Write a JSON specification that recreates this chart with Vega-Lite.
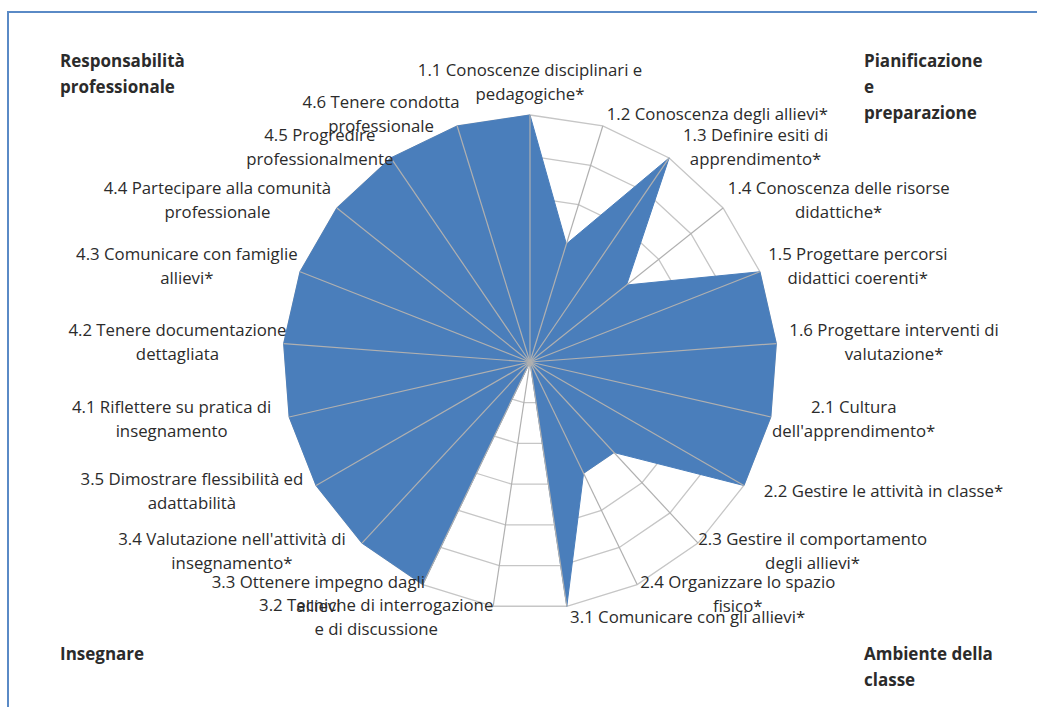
{
  "$schema": "https://vega.github.io/schema/vega-lite/v6.json",
  "width": 1035,
  "height": 701,
  "autosize": {"type": "none"},
  "padding": {"left": 8, "top": 12, "right": -6, "bottom": -6},
  "background": "white",
  "config": {"view": {"stroke": "#5a8ac6", "strokeWidth": 2}},
  "datasets": {
    "cats": [
      {"idx": 0, "cat": "1.1 Conoscenze disciplinari e\npedagogiche*", "value": 6},
      {"idx": 1, "cat": "1.2 Conoscenza degli allievi*", "value": 3},
      {"idx": 2, "cat": "1.3 Definire esiti di\napprendimento*", "value": 6},
      {"idx": 3, "cat": "1.4 Conoscenza delle risorse\ndidattiche*", "value": 3},
      {"idx": 4, "cat": "1.5 Progettare percorsi\ndidattici coerenti*", "value": 6},
      {"idx": 5, "cat": "1.6 Progettare interventi di\nvalutazione*", "value": 6},
      {"idx": 6, "cat": "2.1 Cultura\ndell'apprendimento*", "value": 6},
      {"idx": 7, "cat": "2.2 Gestire le attività in classe*", "value": 6},
      {"idx": 8, "cat": "2.3 Gestire il comportamento\ndegli allievi*", "value": 3},
      {"idx": 9, "cat": "2.4 Organizzare lo spazio\nfisico*", "value": 3},
      {"idx": 10, "cat": "3.1 Comunicare con gli allievi*", "value": 6},
      {"idx": 11, "cat": "3.2 Tecniche di interrogazione\ne di discussione", "value": 0},
      {"idx": 12, "cat": "3.3 Ottenere impegno dagli\nallievi", "value": 6},
      {"idx": 13, "cat": "3.4 Valutazione nell'attività di\ninsegnamento*", "value": 6},
      {"idx": 14, "cat": "3.5 Dimostrare flessibilità ed\nadattabilità", "value": 6},
      {"idx": 15, "cat": "4.1 Riflettere su pratica di\ninsegnamento", "value": 6},
      {"idx": 16, "cat": "4.2 Tenere documentazione\ndettagliata", "value": 6},
      {"idx": 17, "cat": "4.3 Comunicare con famiglie\nallievi*", "value": 6},
      {"idx": 18, "cat": "4.4 Partecipare alla comunità\nprofessionale", "value": 6},
      {"idx": 19, "cat": "4.5 Progredire\nprofessionalmente", "value": 6},
      {"idx": 20, "cat": "4.6 Tenere condotta\nprofessionale", "value": 6}
    ],
    "grid": [
      {"level":1,"idx":0},{"level":1,"idx":1},{"level":1,"idx":2},{"level":1,"idx":3},{"level":1,"idx":4},{"level":1,"idx":5},{"level":1,"idx":6},{"level":1,"idx":7},{"level":1,"idx":8},{"level":1,"idx":9},{"level":1,"idx":10},{"level":1,"idx":11},{"level":1,"idx":12},{"level":1,"idx":13},{"level":1,"idx":14},{"level":1,"idx":15},{"level":1,"idx":16},{"level":1,"idx":17},{"level":1,"idx":18},{"level":1,"idx":19},{"level":1,"idx":20},
      {"level":2,"idx":0},{"level":2,"idx":1},{"level":2,"idx":2},{"level":2,"idx":3},{"level":2,"idx":4},{"level":2,"idx":5},{"level":2,"idx":6},{"level":2,"idx":7},{"level":2,"idx":8},{"level":2,"idx":9},{"level":2,"idx":10},{"level":2,"idx":11},{"level":2,"idx":12},{"level":2,"idx":13},{"level":2,"idx":14},{"level":2,"idx":15},{"level":2,"idx":16},{"level":2,"idx":17},{"level":2,"idx":18},{"level":2,"idx":19},{"level":2,"idx":20},
      {"level":3,"idx":0},{"level":3,"idx":1},{"level":3,"idx":2},{"level":3,"idx":3},{"level":3,"idx":4},{"level":3,"idx":5},{"level":3,"idx":6},{"level":3,"idx":7},{"level":3,"idx":8},{"level":3,"idx":9},{"level":3,"idx":10},{"level":3,"idx":11},{"level":3,"idx":12},{"level":3,"idx":13},{"level":3,"idx":14},{"level":3,"idx":15},{"level":3,"idx":16},{"level":3,"idx":17},{"level":3,"idx":18},{"level":3,"idx":19},{"level":3,"idx":20},
      {"level":4,"idx":0},{"level":4,"idx":1},{"level":4,"idx":2},{"level":4,"idx":3},{"level":4,"idx":4},{"level":4,"idx":5},{"level":4,"idx":6},{"level":4,"idx":7},{"level":4,"idx":8},{"level":4,"idx":9},{"level":4,"idx":10},{"level":4,"idx":11},{"level":4,"idx":12},{"level":4,"idx":13},{"level":4,"idx":14},{"level":4,"idx":15},{"level":4,"idx":16},{"level":4,"idx":17},{"level":4,"idx":18},{"level":4,"idx":19},{"level":4,"idx":20},
      {"level":5,"idx":0},{"level":5,"idx":1},{"level":5,"idx":2},{"level":5,"idx":3},{"level":5,"idx":4},{"level":5,"idx":5},{"level":5,"idx":6},{"level":5,"idx":7},{"level":5,"idx":8},{"level":5,"idx":9},{"level":5,"idx":10},{"level":5,"idx":11},{"level":5,"idx":12},{"level":5,"idx":13},{"level":5,"idx":14},{"level":5,"idx":15},{"level":5,"idx":16},{"level":5,"idx":17},{"level":5,"idx":18},{"level":5,"idx":19},{"level":5,"idx":20},
      {"level":6,"idx":0},{"level":6,"idx":1},{"level":6,"idx":2},{"level":6,"idx":3},{"level":6,"idx":4},{"level":6,"idx":5},{"level":6,"idx":6},{"level":6,"idx":7},{"level":6,"idx":8},{"level":6,"idx":9},{"level":6,"idx":10},{"level":6,"idx":11},{"level":6,"idx":12},{"level":6,"idx":13},{"level":6,"idx":14},{"level":6,"idx":15},{"level":6,"idx":16},{"level":6,"idx":17},{"level":6,"idx":18},{"level":6,"idx":19},{"level":6,"idx":20}
    ],
    "groups": [
      {"group": "Responsabilità\nprofessionale", "col": "sinistra", "row": "alto"},
      {"group": "Pianificazione\ne\npreparazione", "col": "destra", "row": "alto"},
      {"group": "Insegnare", "col": "sinistra", "row": "basso"},
      {"group": "Ambiente della\nclasse", "col": "destra", "row": "basso"}
    ]
  },
  "layer": [
    {
      "layer": [
        {
          "data": {"name": "grid"},
          "transform": [
            {"calculate": "datum.level*sin(2*PI*datum.idx/21)", "as": "gx"},
            {"calculate": "datum.level*cos(2*PI*datum.idx/21)", "as": "gy"}
          ],
          "mark": {"type": "line", "interpolate": "linear-closed", "stroke": "#c6c6c6", "strokeWidth": 1.3},
          "encoding": {
            "x": {"field": "gx", "type": "quantitative", "scale": {"domain": [-12.68, 12.462], "nice": false, "zero": false}, "axis": null},
            "y": {"field": "gy", "type": "quantitative", "scale": {"domain": [-8.526, 8.502], "nice": false, "zero": false}, "axis": null},
            "detail": {"field": "level", "type": "nominal"},
            "order": {"field": "idx", "type": "quantitative"}
          }
        },
        {
          "data": {"name": "cats"},
          "transform": [
            {"calculate": "2*PI*datum.idx/21", "as": "a"},
            {"calculate": "datum.value*sin(datum.a)", "as": "px"},
            {"calculate": "datum.value*cos(datum.a)", "as": "py"}
          ],
          "mark": {"type": "line", "interpolate": "linear-closed", "fill": "#4a7ebb", "stroke": "#4a7ebb", "strokeWidth": 1},
          "encoding": {
            "x": {"field": "px", "type": "quantitative", "scale": {"domain": [-12.68, 12.462], "nice": false, "zero": false}, "axis": null},
            "y": {"field": "py", "type": "quantitative", "scale": {"domain": [-8.526, 8.502], "nice": false, "zero": false}, "axis": null},
            "order": {"field": "idx", "type": "quantitative"}
          }
        },
        {
          "data": {"name": "cats"},
          "transform": [
            {"calculate": "2*PI*datum.idx/21", "as": "a"},
            {"calculate": "0", "as": "c0"},
            {"calculate": "6*sin(datum.a)", "as": "ex"},
            {"calculate": "6*cos(datum.a)", "as": "ey"}
          ],
          "mark": {"type": "rule", "stroke": "#b0b0b0", "strokeWidth": 1.2},
          "encoding": {
            "x": {"field": "c0", "type": "quantitative", "scale": {"domain": [-12.68, 12.462], "nice": false, "zero": false}, "axis": null},
            "y": {"field": "c0", "type": "quantitative", "scale": {"domain": [-8.526, 8.502], "nice": false, "zero": false}, "axis": null},
            "x2": {"field": "ex"},
            "y2": {"field": "ey"}
          }
        },
        {
          "data": {"name": "cats"},
          "transform": [
            {"calculate": "2*PI*datum.idx/21", "as": "a"},
            {"calculate": "6*sin(datum.a)", "as": "ex"},
            {"calculate": "6*cos(datum.a)", "as": "ey"},
            {"calculate": "split(datum.cat, '\\n')", "as": "lines"},
            {"calculate": "max(length(datum.lines[0]), length(datum.lines) > 1 ? length(datum.lines[1]) : 0)", "as": "nch"},
            {"calculate": "abs(sin(datum.a)) < 0.05 ? 0 : (sin(datum.a) > 0 ? 1 : -1)", "as": "side"},
            {"calculate": "datum.ex + (10*sin(datum.a) + datum.side*datum.nch*7.7/2)/41.1667", "as": "lx"},
            {"calculate": "datum.ey + ((datum.idx == 0 ? 32 : 12*cos(datum.a)) + (length(datum.lines) - 1)*12)/41.1667", "as": "ly"}
          ],
          "mark": {"type": "text", "align": "center", "baseline": "middle", "lineBreak": "\n", "font": "Open Sans", "fontSize": 16.8, "lineHeight": 24, "fill": "#2b2b2b"},
          "encoding": {
            "x": {"field": "lx", "type": "quantitative", "scale": {"domain": [-12.68, 12.462], "nice": false, "zero": false}, "axis": null},
            "y": {"field": "ly", "type": "quantitative", "scale": {"domain": [-8.526, 8.502], "nice": false, "zero": false}, "axis": null},
            "text": {"field": "cat", "type": "nominal"}
          }
        }
      ]
    },
    {
      "data": {"name": "groups"},
      "mark": {"type": "text", "align": "left", "baseline": "top", "lineBreak": "\n", "font": "Open Sans", "fontWeight": "bold", "fontSize": 17, "lineHeight": 26, "fill": "#2b2b2b"},
      "encoding": {
        "x": {"field": "col", "type": "nominal", "scale": {"type": "point", "padding": 0, "domain": ["sinistra", "destra"], "range": [52, 856]}, "axis": null},
        "y": {"field": "row", "type": "nominal", "scale": {"type": "point", "padding": 0, "domain": ["alto", "basso"], "range": [42, 635]}, "axis": null},
        "text": {"field": "group", "type": "nominal"}
      }
    }
  ],
  "resolve": {"scale": {"x": "independent", "y": "independent"}}
}
